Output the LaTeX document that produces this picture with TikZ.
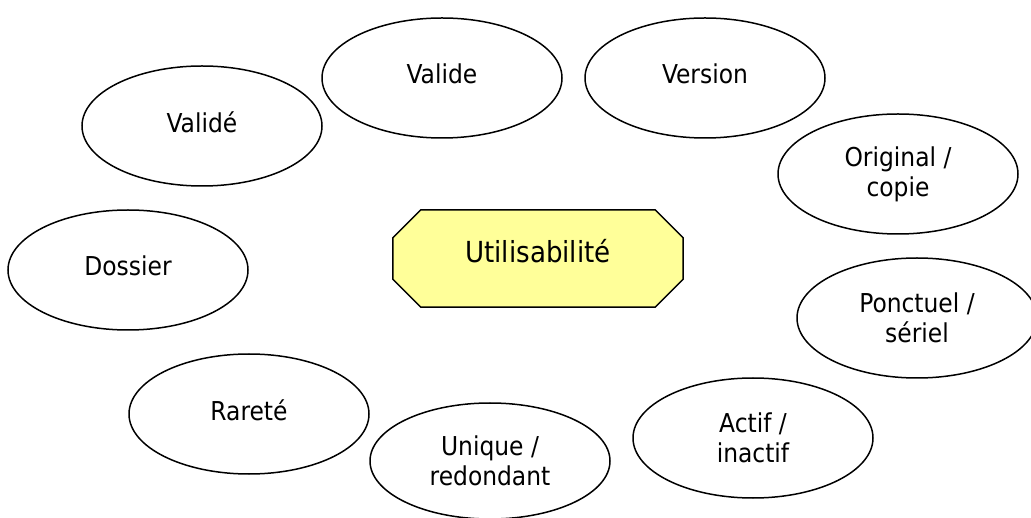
\documentclass[tikz,border=0pt]{standalone}
\usepackage{fontspec}
\setmainfont{DejaVu Sans Condensed}
\usetikzlibrary{shapes.geometric,calc}
\definecolor{paleyellow}{HTML}{FFFF99}
\begin{document}
\begin{tikzpicture}[x=1pt,y=-1pt,
  oval/.style={draw=black,line width=1.5pt,ellipse,inner sep=0pt,
    minimum width=240pt,minimum height=120pt,align=center,
    font=\fontsize{26}{30}\selectfont},
  lift/.style={text depth=8pt},
  hub/.style={inner sep=0pt,minimum width=290pt,minimum height=97pt,
    text depth=15pt,font=\fontsize{29}{33}\selectfont},
  hubline/.style={draw=black,line width=1.5pt,fill=paleyellow,line join=miter}]
\useasboundingbox (0,0) rectangle (1031,518);
\node[hub] (u) at (538,258.5) {};
\draw[hubline]
  ($(u.north west)+(28,0)$) -- ($(u.north east)+(-28,0)$) --
  ($(u.north east)+(0,28)$) -- ($(u.south east)+(0,-28)$) --
  ($(u.south east)+(-28,0)$) -- ($(u.south west)+(28,0)$) --
  ($(u.south west)+(0,-28)$) -- ($(u.north west)+(0,28)$) -- cycle;
\node[hub] (ut) at (u.center) {Utilisabilité};
\node[oval,lift] (valide2) at (202,126) {Validé};
\node[oval,lift] (valide) at (442,78) {Valide};
\node[oval,lift] (version) at (705,78) {Version};
\node[oval] (orig) at (898,174) {Original /\\copie};
\node[oval,lift] (dossier) at (128,270) {Dossier};
\node[oval] (ponct) at (917,318) {Ponctuel /\\sériel};
\node[oval,lift] (rarete) at (249,414) {Rareté};
\node[oval,minimum height=116pt] (unique) at (490,461) {Unique /\\redondant};
\node[oval] (actif) at (753,438) {Actif /\\inactif};
\end{tikzpicture}
\end{document}
